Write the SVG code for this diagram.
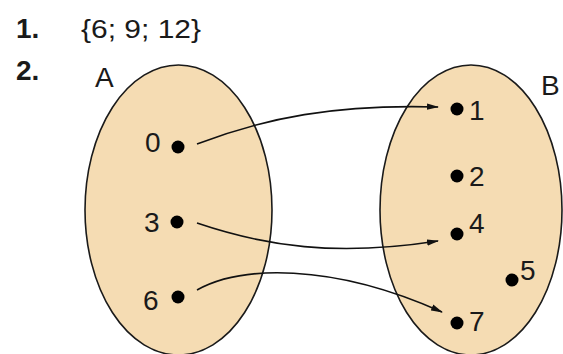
<svg xmlns="http://www.w3.org/2000/svg" width="563" height="354" viewBox="0 0 563 354">
<defs>
<style>
.set{fill:#F5DCB3;stroke:#1a1a1a;stroke-width:1.6}
.dot{fill:#000}
.lbl{font-family:"Liberation Sans",Arial,sans-serif;font-size:28px;fill:#1a1a1a}
.num{font-family:"Liberation Sans",Arial,sans-serif;font-size:28px;font-weight:bold;fill:#1a1a1a}
.txt{font-family:"Liberation Sans",Arial,sans-serif;font-size:26px;fill:#1a1a1a}
.conn{fill:none;stroke:#111;stroke-width:1.6;marker-end:url(#ah)}
</style>
<marker id="ah" viewBox="0 0 12 8" refX="11" refY="4" markerWidth="12" markerHeight="8" markerUnits="userSpaceOnUse" orient="auto">
<path d="M0,0.8 L12,4 L0,7.2 Z" fill="#111"/>
</marker>
</defs>
<g id="header">
<text class="num" x="16" y="38">1.</text>
<text class="txt" x="81" y="38" textLength="120" lengthAdjust="spacingAndGlyphs">{6; 9; 12}</text>
<text class="num" x="16" y="80">2.</text>
</g>
<g id="setA">
<ellipse class="set" cx="178.5" cy="210" rx="93.5" ry="145"/>
<text class="lbl" x="95" y="87">A</text>
</g>
<g id="setB">
<ellipse class="set" cx="471" cy="210" rx="91" ry="145"/>
<text class="lbl" x="541" y="95">B</text>
</g>
<g id="a0"><circle class="dot" cx="178" cy="147" r="6.5"/><text class="lbl" x="145" y="152">0</text></g>
<g id="a3"><circle class="dot" cx="177" cy="222" r="6.5"/><text class="lbl" x="144" y="232">3</text></g>
<g id="a6"><circle class="dot" cx="178" cy="297" r="6.5"/><text class="lbl" x="143" y="310">6</text></g>
<g id="b1"><circle class="dot" cx="457" cy="109" r="6.5"/><text class="lbl" x="469" y="120">1</text></g>
<g id="b2"><circle class="dot" cx="457" cy="176" r="6.5"/><text class="lbl" x="469" y="186">2</text></g>
<g id="b4"><circle class="dot" cx="457" cy="234" r="6.5"/><text class="lbl" x="469" y="233">4</text></g>
<g id="b5"><circle class="dot" cx="512" cy="280" r="6.5"/><text class="lbl" x="520" y="280">5</text></g>
<g id="b7"><circle class="dot" cx="457" cy="323" r="6.5"/><text class="lbl" x="469" y="331">7</text></g>
<g id="connectors">
<path class="conn" d="M197,144 C265,118 335,104 438,107"/>
<path class="conn" d="M197,223 C265,246 335,257 438,241"/>
<path class="conn" d="M197,290 C240,266 330,262 442,312"/>
</g>
</svg>
